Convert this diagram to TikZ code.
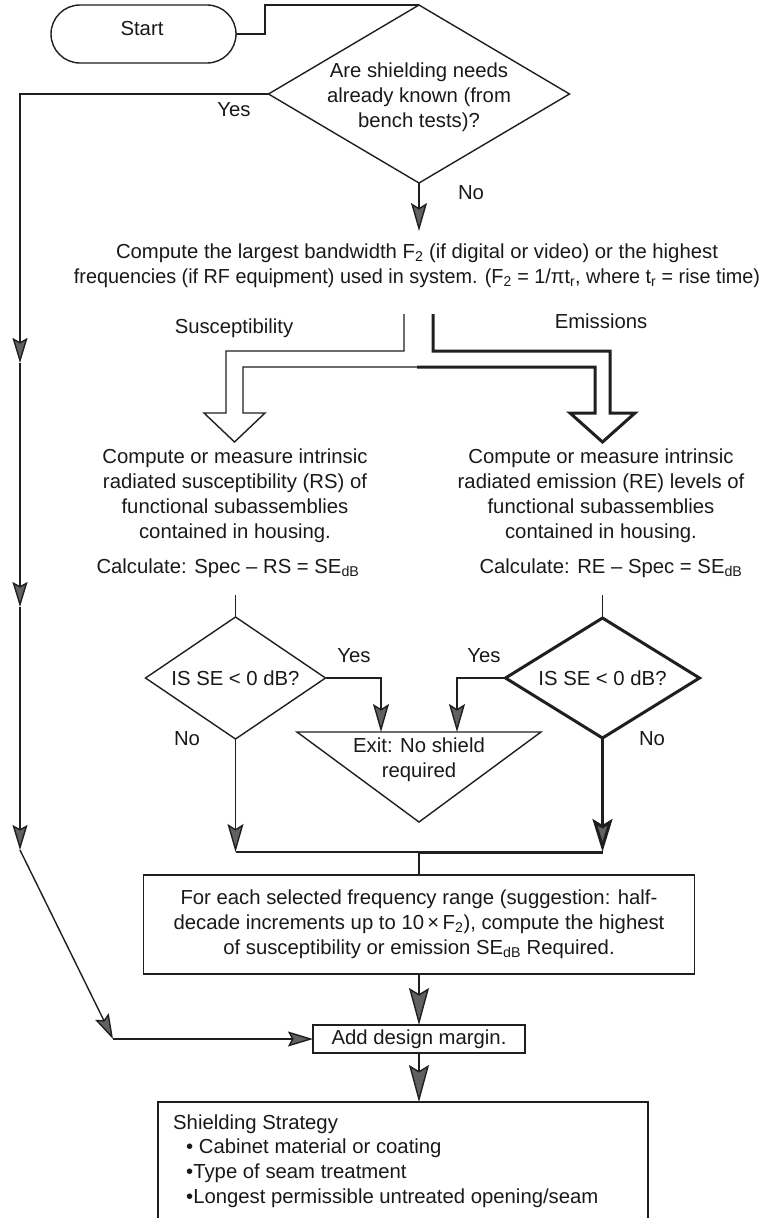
\documentclass[tikz,border=0pt]{standalone}
\usepackage{fontspec}
\setmainfont{Liberation Sans}
\usetikzlibrary{arrows.meta,shapes.geometric}

\begin{document}
\begin{tikzpicture}[x=1pt,y=-1pt,
  font=\fontsize{20.3}{25}\selectfont,
  text=black!90,
  thinline/.style={line width=1.4pt, draw=black!88},
  thickline/.style={line width=3pt, draw=black!88},
  tiparrow/.style={-{Stealth[length=28pt,width=16pt,inset=5pt,fill=black!62]}},
  sidetip/.style={-{Stealth[length=25pt,width=15pt,inset=4pt,fill=black!62]}},
  bigtip/.style={-{Stealth[length=37pt,width=20pt,inset=6pt,fill=black!62]}},
  boldtip/.style={-{Stealth[length=33pt,width=20pt,inset=6pt,fill=black!62]}},
  txt/.style={align=center, inner sep=0pt},
  lbl/.style={inner sep=0pt},
  decision/.style={diamond, draw, thinline, inner sep=0pt, outer sep=0pt},
  procbox/.style={rectangle, draw, thinline, inner sep=0pt, outer sep=0pt, align=center},
  terminal/.style={rectangle, draw, thinline, rounded corners=29pt, inner sep=0pt, outer sep=0pt,
    minimum width=185pt, minimum height=58pt}
]
\useasboundingbox (0,0) rectangle (766,1218);
\fill[white] (0,0) rectangle (766,1218);
\clip (0,0) rectangle (766,1218);

% ---------- start and first decision ----------
\node[terminal] (start) at (143.5,34) {};
\node[lbl] (starttxt) at (142,29) {Start};
\node[decision, minimum width=301pt, minimum height=178pt] (q1) at (419,94) {};
\node[txt] (q1txt) at (419,97) {Are shielding needs\\already known (from\\bench tests)?};
\coordinate (s1) at (265,5);
\draw[thinline] (start.east) -| (s1) -- (q1.north);

\node[lbl] (yes1) at (234,110) {Yes};
\node[lbl] (no1) at (471,193) {No};

% ---------- bandwidth computation ----------
\node[txt] (comp) at (417,265.5) {Compute the largest bandwidth F\textsubscript{2} (if digital or video) or the highest\\
\scalebox{0.975}[1]{frequencies (if RF equipment) used in system. (F\textsubscript{2} = 1/πt\textsubscript{r}, where t\textsubscript{r} = rise time)}};
\coordinate (compin) at (419,231);
\draw[thinline, tiparrow] (q1.south) -- (compin);

\node[lbl] (susc) at (234,328) {Susceptibility};
\node[lbl] (emis) at (601,321) {Emissions};

% hollow branch arrows
\draw[thinline, line join=miter]
  (404,314) -- (404,351) -- (226,351) -- (226,413) -- (204,413) -- (234.5,442)
  -- (265,413) -- (243,413) -- (243,367) -- (418,367);
\draw[thickline, line join=miter]
  (433,314) -- (433,351) -- (610,351) -- (610,413) -- (635,413) -- (602.5,442)
  -- (570,413) -- (595,413) -- (595,367) -- (417,367);

% ---------- the two branches ----------
\node[txt] (rs) at (235,495.5) {Compute or measure intrinsic\\radiated susceptibility (RS) of\\functional subassemblies\\contained in housing.};
\node[txt] (re) at (601,495.5) {Compute or measure intrinsic\\radiated emission (RE) levels of\\functional subassemblies\\contained in housing.};
\node[lbl] (calcl) at (228,568) {Calculate: Spec – RS = SE\textsubscript{dB}};
\node[lbl] (calcr) at (611,568) {Calculate: RE – Spec = SE\textsubscript{dB}};

\node[decision, minimum width=180pt, minimum height=122pt] (ql) at (235.5,678) {};
\node[lbl] (qltxt) at (235.5,678) {IS SE < 0 dB?};
\node[decision, thickline, minimum width=194pt, minimum height=120pt] (qr) at (602.5,678) {};
\node[lbl] (qrtxt) at (602.5,678) {IS SE < 0 dB?};

\coordinate (cl) at (235.5,595);
\coordinate (cr) at (602.5,595);
\draw[thinline] (cl) -- (ql.north);
\draw[thinline] (cr) -- (qr.north);

\node[lbl] (yesl) at (354,656) {Yes};
\node[lbl] (yesr) at (484,656) {Yes};
\node[lbl] (nol) at (187,739) {No};
\node[lbl] (nor) at (652,739) {No};

% exit triangle
\coordinate (ea) at (297,732);
\coordinate (eb) at (541,732);
\coordinate (ec) at (419,822);
\draw[thinline, line join=miter] (ea) -- (eb) -- (ec) -- cycle;
\node[txt] (exit) at (419,760) {Exit: No shield\\required};
\coordinate (exl) at (381,732);
\coordinate (exr) at (457,732);
\draw[thinline, tiparrow] (ql.east) -| (exl);
\draw[thinline, tiparrow] (qr.west) -| (exr);

% merging of the two branches
\coordinate (ml) at (235.5,852);
\coordinate (mc) at (419,852);
\coordinate (mr) at (602.5,852);
\draw[thinline, tiparrow] (ql.south) -- (ml);
\draw[thickline, boldtip] (qr.south) -- (mr);
\draw[thinline] (ml) -- (mc);
\draw[thickline] (mc) -- (mr);

\node[procbox, minimum width=551pt, minimum height=99pt] (range) at (419,924.5)
  {For each selected frequency range (suggestion: half-\\decade increments up to 10\,×\,F\textsubscript{2}), compute the highest\\of susceptibility or emission SE\textsubscript{dB} Required.};
\draw[thinline] (mc) -- (range.north);

\node[procbox, minimum width=212pt, minimum height=28pt] (margin) at (419,1039) {Add design margin.};
\draw[thinline, bigtip] (range.south) -- (margin.north);

\node[procbox, minimum width=490pt, minimum height=140pt] (strat) at (403,1172) {};
\coordinate (stratin) at (419,1102);
\draw[thinline, bigtip] (margin.south) -- (stratin);
\node[lbl, anchor=base west] (st0) at (173,1129) {Shielding Strategy};
\node[lbl, anchor=base west] (st1) at (186,1153) {\textbullet\ Cabinet material or coating};
\node[lbl, anchor=base west] (st2) at (186,1178) {\textbullet Type of seam treatment};
\node[lbl, anchor=base west] (st3) at (186,1203) {\textbullet Longest permissible untreated opening/seam};

% ---------- the "Yes" bypass on the left ----------
\coordinate (l0) at (20,94);
\coordinate (l1) at (20,363);
\coordinate (l2) at (20,607);
\coordinate (l3) at (20,850);
\coordinate (l4) at (113,1039);
\draw[thinline, sidetip] (q1.west) -- (l0) -- (l1);
\draw[thinline, sidetip] (l1) -- (l2);
\draw[thinline, sidetip] (l2) -- (l3);
\draw[thinline, sidetip] (l3) -- (l4);
\draw[thinline, sidetip] (l4) -- (margin.west);
\end{tikzpicture}
\end{document}
